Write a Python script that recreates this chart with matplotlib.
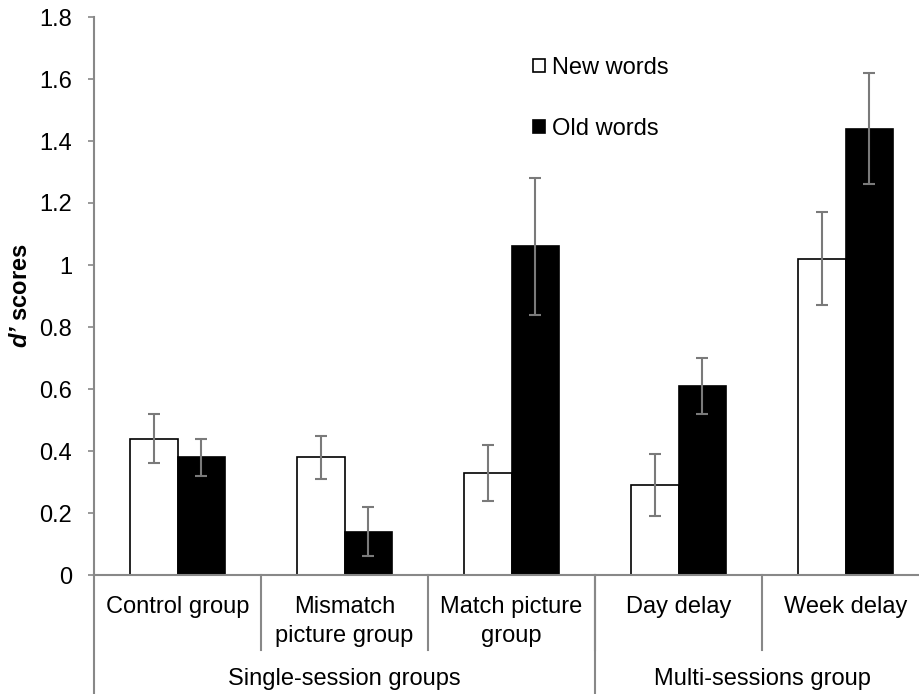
import matplotlib.pyplot as plt
import matplotlib as mpl
import numpy as np
from matplotlib.patches import Patch
from matplotlib.lines import Line2D
from matplotlib.transforms import blended_transform_factory

plt.rcParams["font.family"] = ["Liberation Sans", "DejaVu Sans"]
plt.rcParams["mathtext.fontset"] = "custom"
plt.rcParams["mathtext.bfit"] = "Liberation Sans:italic:bold"

categories = ["Control group", "Mismatch\npicture group", "Match picture\ngroup",
              "Day delay", "Week delay"]
groups = ["Single-session groups", "Multi-sessions group"]
group_sizes = [3, 2]
new_words = [0.44, 0.38, 0.33, 0.29, 1.02]
new_err = [0.08, 0.07, 0.09, 0.10, 0.15]
old_words = [0.38, 0.14, 1.06, 0.61, 1.44]
old_err = [0.06, 0.078, 0.22, 0.09, 0.18]

W, H = 919, 694
fig = plt.figure(figsize=(W / 100, H / 100), dpi=100)
# axis runs past the right edge of the picture, like the source
ax = fig.add_axes([94 / W, (H - 575) / H, (929 - 94) / W, 558 / H])

gray = "#888888"
errgray = "#7a7a7a"
x = np.arange(len(categories))
w = 1 / 3.5
ekw = dict(ecolor=errgray, elinewidth=1.5, capsize=4.6, capthick=1.5)
ax.bar(x - w / 2, new_words, w, color="white", edgecolor="black", linewidth=1.2,
       yerr=new_err, error_kw=ekw, label="New words")
ax.bar(x + w / 2, old_words, w, color="black", edgecolor="black", linewidth=1.2,
       yerr=old_err, error_kw=ekw, label="Old words")

ax.set_xlim(-0.5, len(categories) - 0.5)
ax.set_ylim(0, 1.8)
ax.set_yticks(np.arange(0, 1.81, 0.2))
ax.set_yticklabels(["0"] + [f"{v:g}" for v in np.arange(0.2, 1.81, 0.2)])
ax.tick_params(axis="y", direction="out", length=4.3, width=1.2, color=gray,
               pad=11.5, labelsize=17)
ax.set_xticks([])
for s in ["top", "right"]:
    ax.spines[s].set_visible(False)
for s in ["left", "bottom"]:
    ax.spines[s].set_color(gray)
    ax.spines[s].set_linewidth(1.5)

fig.text(21 / W, (H - 296) / H, r"$\mathbfit{d’}$ scores",
         fontsize=17, fontweight="bold", rotation=90, va="center", ha="center")

# two-level category axis below the plot
tr = blended_transform_factory(ax.transData, fig.transFigure)
y0 = (H - 575) / H
y1 = (H - 650) / H
for i, lab in enumerate(categories):
    ax.text(i, (H - 596) / H, lab, transform=tr, ha="center", va="top",
            fontsize=17, linespacing=1.4)
for b in np.arange(0.5, len(categories) - 0.5, 1.0):
    ax.add_line(Line2D([b, b], [y0, y1], transform=tr, color=gray, lw=1.5,
                       clip_on=False))
edges = np.concatenate([[0], np.cumsum(group_sizes)]) - 0.5
for b in edges[:-1]:
    ax.add_line(Line2D([b, b], [y0, 0], transform=tr, color=gray, lw=1.5,
                       clip_on=False))
for g, lo, hi in zip(groups, edges[:-1], edges[1:]):
    ax.text((lo + hi) / 2, (H - 679) / H, g, transform=tr, ha="center",
            va="center", fontsize=17)

handles = [Patch(facecolor="white", edgecolor="black", linewidth=1.2),
           Patch(facecolor="black", edgecolor="black", linewidth=1.2)]
ax.legend(handles, ["New words", "Old words"], loc="upper left",
          bbox_to_anchor=(533 / W, (H - 57) / H), bbox_transform=fig.transFigure,
          frameon=False, fontsize=17, handlelength=0.5, handleheight=0.5,
          handletextpad=0.3, labelspacing=1.65, borderaxespad=0, borderpad=0)

fig.savefig("out.png", dpi=100)
